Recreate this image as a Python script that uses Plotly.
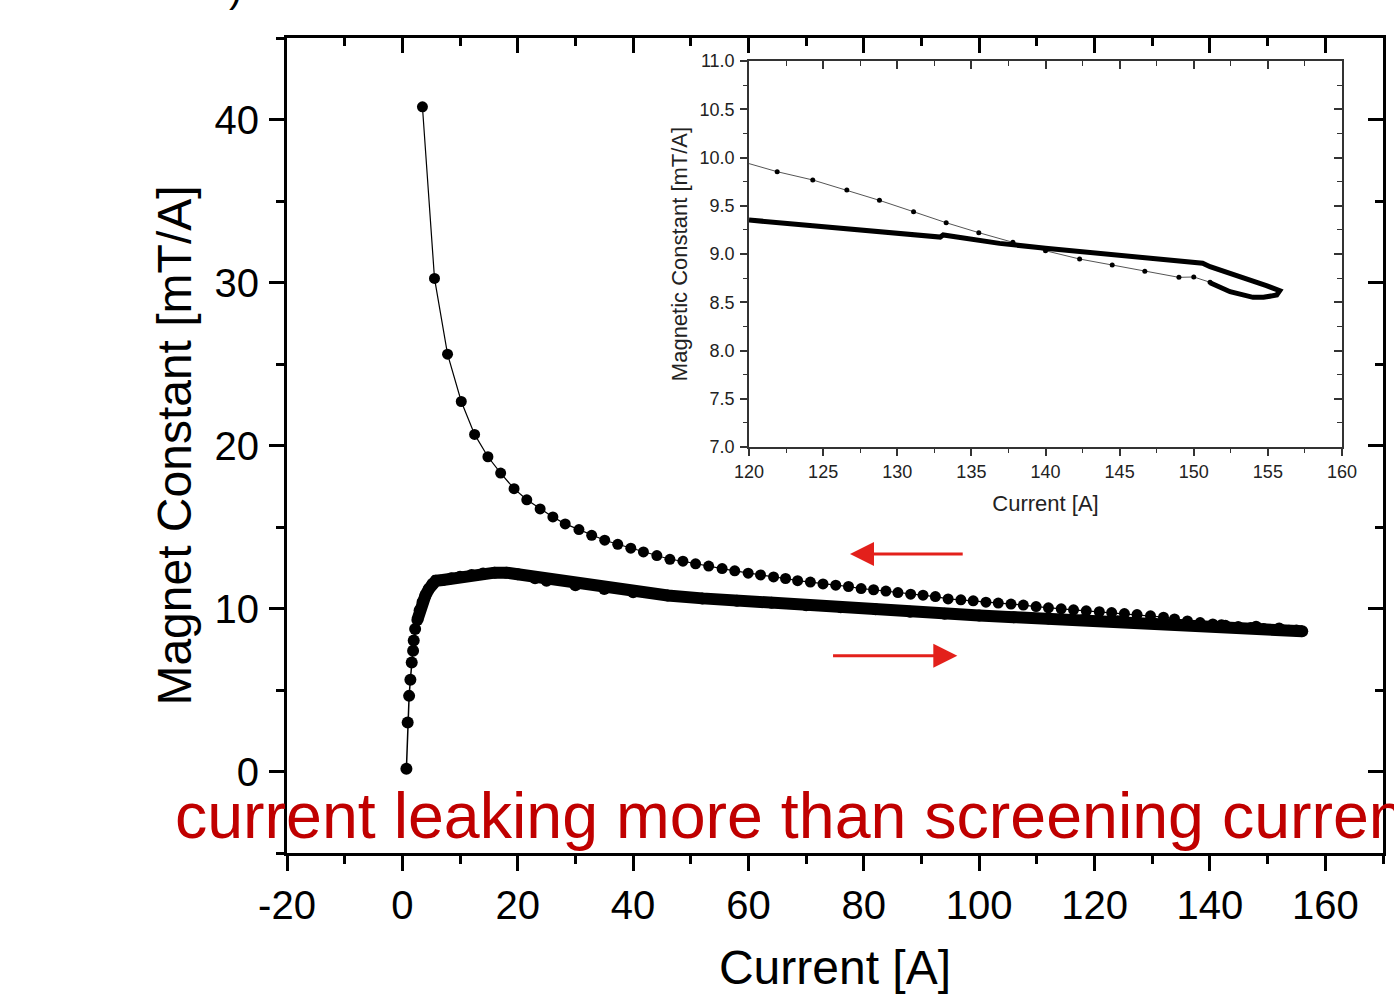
import plotly.graph_objects as go

# ---------------- data ----------------
# main plot, ramp-down branch (sparse dots)
down_I = [3.48, 5.57, 7.83, 10.21, 12.52, 14.83, 17.04, 19.36, 21.57, 23.88, 26.09, 28.23,
          30.61, 32.82, 35.08, 37.34, 39.60, 41.79, 44.12, 46.38, 48.64, 50.83, 53.10, 55.43,
          57.62, 59.95, 62.09, 64.35, 66.43, 68.52, 70.73, 72.92, 75.13, 77.34, 79.53, 81.69,
          83.83, 85.91, 88.12, 90.26, 92.40, 94.61, 96.82, 98.96, 101.17, 103.30, 105.51,
          107.65, 109.86, 112.00, 114.21, 116.35, 118.56, 120.82, 122.96, 125.17, 127.36,
          129.69, 131.95, 133.86, 136.1, 138.3, 140.5, 142.7, 144.9, 147.1, 149.3, 151.5,
          153.7, 155.9]
down_M = [40.78, 30.25, 25.60, 22.70, 20.68, 19.31, 18.31, 17.35, 16.67, 16.11, 15.62, 15.19,
          14.84, 14.49, 14.19, 13.94, 13.70, 13.47, 13.25, 13.02, 12.90, 12.74, 12.60, 12.45,
          12.31, 12.17, 12.06, 11.94, 11.84, 11.71, 11.62, 11.51, 11.43, 11.35, 11.22, 11.15,
          11.07, 10.98, 10.88, 10.82, 10.73, 10.59, 10.53, 10.47, 10.39, 10.33, 10.27,
          10.21, 10.12, 10.04, 9.98, 9.92, 9.86, 9.80, 9.75, 9.69, 9.63,
          9.55, 9.47, 9.36, 9.24, 9.14, 9.05, 8.97, 8.90, 8.84, 8.78, 8.73,
          8.66, 8.60]

# main plot, ramp-up branch (dense band)
up_I = [0.70, 0.92, 1.17, 1.39, 1.62, 1.86, 1.97, 2.21, 2.6, 3.0, 3.5, 4.0, 4.6, 5.2, 5.8,
        7.0, 8.5, 10, 12, 14, 16, 18, 20, 23, 25, 30, 35, 40, 46, 52, 58, 64, 70, 76, 82,
        88, 94, 100, 106, 112, 118, 124, 130, 136, 142, 148, 152, 155, 156]
up_M = [0.17, 3.00, 4.64, 5.63, 6.69, 7.41, 8.04, 8.74, 9.3, 9.9, 10.4, 10.8, 11.2, 11.5, 11.7,
        11.75, 11.85, 11.95, 12.05, 12.15, 12.2, 12.2, 12.1, 11.85, 11.7, 11.42, 11.19, 11.0,
        10.8, 10.62, 10.47, 10.35, 10.2, 10.07, 9.95, 9.8, 9.68, 9.57, 9.47, 9.38, 9.3, 9.22,
        9.14, 9.06, 8.98, 8.88, 8.78, 8.65, 8.6]
BAND_START = 8

# inset, ramp-down (thin line with small dots)
ins_down_I = [119.7, 121.9, 124.3, 126.6, 128.8, 131.1, 133.3, 135.5, 137.8, 140.0, 142.3,
              144.5, 146.7, 149.0, 150.0, 151.1]
ins_down_M = [9.95, 9.853, 9.767, 9.663, 9.556, 9.438, 9.324, 9.221, 9.121, 9.034, 8.948,
              8.886, 8.821, 8.758, 8.762, 8.707]

# inset, ramp-up (thick line with loop at the end)
ins_up_I = [120.0, 123.0, 126.0, 129.0, 132.9, 133.1, 136.9, 140.0, 143.0, 147.0, 150.6,
            151.1, 153.3, 154.9, 155.8, 155.6, 154.7, 154.0, 152.45, 151.1]
ins_up_M = [9.352, 9.31, 9.27, 9.22, 9.175, 9.197, 9.11, 9.06, 9.018, 8.965, 8.904,
            8.868, 8.759, 8.672, 8.620, 8.575, 8.551, 8.551, 8.609, 8.703]

# tick labels of the main x axis (hyphen minus as in the original)
main_x_ticks = [-20, 0, 20, 40, 60, 80, 100, 120, 140, 160]
main_x_labels = ["-20", "0", "20", "40", "60", "80", "100", "120", "140", "160"]

# ---------------- figure ----------------
W, H = 1394, 994
FONT = "Liberation Sans, Arial, sans-serif"


def fx(p):
    return p / W


def fy(p):
    return 1 - p / H


fig = go.Figure()

# main traces
fig.add_trace(go.Scatter(x=down_I, y=down_M, mode="lines+markers",
                         line=dict(color="black", width=1.2),
                         marker=dict(color="black", size=11),
                         showlegend=False, hoverinfo="skip"))
fig.add_trace(go.Scatter(x=up_I[BAND_START:], y=up_M[BAND_START:], mode="lines",
                         line=dict(color="black", width=12),
                         showlegend=False, hoverinfo="skip"))
fig.add_trace(go.Scatter(x=up_I, y=up_M, mode="lines+markers",
                         line=dict(color="black", width=1.5),
                         marker=dict(color="black", size=12),
                         showlegend=False, hoverinfo="skip"))
# dummy for mirrored inside ticks on main
fig.add_trace(go.Scatter(x=[], y=[], xaxis="x3", yaxis="y3", showlegend=False,
                         hoverinfo="skip"))

# inset traces
fig.add_trace(go.Scatter(x=ins_down_I, y=ins_down_M, xaxis="x2", yaxis="y2",
                         mode="lines+markers",
                         line=dict(color="#555555", width=1),
                         marker=dict(color="black", size=5),
                         showlegend=False, hoverinfo="skip"))
fig.add_trace(go.Scatter(x=ins_up_I, y=ins_up_M, xaxis="x2", yaxis="y2", mode="lines",
                         line=dict(color="black", width=5),
                         showlegend=False, hoverinfo="skip"))
fig.add_trace(go.Scatter(x=[], y=[], xaxis="x4", yaxis="y4", showlegend=False,
                         hoverinfo="skip"))

main_tick_font = dict(family=FONT, size=40, color="black")
ins_tick_font = dict(family=FONT, size=18, color="#222222")

XR = [-20, 170]
YR = [-5, 45]
IXR = [120, 160]
IYR = [7, 11]

fig.update_layout(
    width=W, height=H,
    margin=dict(l=0, r=0, t=0, b=0, pad=0, autoexpand=False),
    paper_bgcolor="white", plot_bgcolor="white",
    font=dict(family=FONT, color="black"),
    xaxis=dict(domain=[fx(287), fx(1383)], range=XR, anchor="y", automargin=False,
               showline=True, linecolor="black", linewidth=3, mirror=True,
               showgrid=False, zeroline=False,
               ticks="outside", ticklen=15, tickwidth=3, tickcolor="black",
               tickmode="array", tickvals=main_x_ticks, ticktext=main_x_labels,
               tickfont=main_tick_font, ticklabelstandoff=0,
               minor=dict(ticks="outside", ticklen=8, tickwidth=3, tickcolor="black",
                          dtick=10, tick0=0, showgrid=False),
               title=dict(text="Current [A]", font=dict(family=FONT, size=48),
                          standoff=36)),
    yaxis=dict(domain=[fy(853), fy(38)], range=YR, anchor="x", automargin=False,
               showline=True, linecolor="black", linewidth=3, mirror=True,
               showgrid=False, zeroline=False,
               ticks="outside", ticklen=15, tickwidth=3, tickcolor="black",
               tick0=0, dtick=10, tickfont=main_tick_font, ticklabelstandoff=2,
               minor=dict(ticks="outside", ticklen=8, tickwidth=3, tickcolor="black",
                          dtick=5, tick0=0, showgrid=False),
               title=dict(text="Magnet Constant [mT/A]", font=dict(family=FONT, size=48),
                          standoff=8)),
    xaxis3=dict(overlaying="x", side="top", anchor="y3", range=XR, automargin=False,
                showline=False, showgrid=False, zeroline=False, showticklabels=False,
                ticks="inside", ticklen=15, tickwidth=3, tickcolor="black",
                tick0=0, dtick=20,
                minor=dict(ticks="inside", ticklen=8, tickwidth=3, tickcolor="black",
                           dtick=10, tick0=0, showgrid=False)),
    yaxis3=dict(overlaying="y", side="right", anchor="x3", range=YR, automargin=False,
                showline=False, showgrid=False, zeroline=False, showticklabels=False,
                ticks="inside", ticklen=15, tickwidth=3, tickcolor="black",
                tick0=0, dtick=10,
                minor=dict(ticks="inside", ticklen=8, tickwidth=3, tickcolor="black",
                           dtick=5, tick0=0, showgrid=False)),
    xaxis2=dict(domain=[fx(749), fx(1342)], range=IXR, anchor="y2", automargin=False,
                showline=True, linecolor="#333333", linewidth=1.5, mirror=True,
                showgrid=False, zeroline=False,
                ticks="outside", ticklen=7, tickwidth=1.5, tickcolor="#333333",
                tick0=120, dtick=5, tickfont=ins_tick_font, ticklabelstandoff=1,
                minor=dict(ticks="outside", ticklen=4, tickwidth=1, tickcolor="#333333",
                           dtick=2.5, tick0=120, showgrid=False),
                title=dict(text="Current [A]", font=dict(family=FONT, size=22,
                                                         color="#222222"),
                           standoff=14)),
    yaxis2=dict(domain=[fy(447), fy(61)], range=IYR, anchor="x2", automargin=False,
                showline=True, linecolor="#333333", linewidth=1.5, mirror=True,
                showgrid=False, zeroline=False,
                ticks="outside", ticklen=7, tickwidth=1.5, tickcolor="#333333",
                tick0=7, dtick=0.5, tickformat=".1f", tickfont=ins_tick_font,
                ticklabelstandoff=2,
                minor=dict(ticks="outside", ticklen=4, tickwidth=1, tickcolor="#333333",
                           dtick=0.25, tick0=7, showgrid=False),
                title=dict(text="Magnetic Constant [mT/A]",
                           font=dict(family=FONT, size=22, color="#222222"),
                           standoff=6)),
    xaxis4=dict(overlaying="x2", side="top", anchor="y4", range=IXR, automargin=False,
                showline=False, showgrid=False, zeroline=False, showticklabels=False,
                ticks="inside", ticklen=8, tickwidth=1.5, tickcolor="#333333",
                tick0=120, dtick=5,
                minor=dict(ticks="inside", ticklen=5, tickwidth=1, tickcolor="#333333",
                           dtick=2.5, tick0=120, showgrid=False)),
    yaxis4=dict(overlaying="y2", side="right", anchor="x4", range=IYR, automargin=False,
                showline=False, showgrid=False, zeroline=False, showticklabels=False,
                ticks="inside", ticklen=8, tickwidth=1.5, tickcolor="#333333",
                tick0=7, dtick=0.5,
                minor=dict(ticks="inside", ticklen=5, tickwidth=1, tickcolor="#333333",
                           dtick=0.25, tick0=7, showgrid=False)),
)

ARROW_RED = "#E3201B"
fig.add_annotation(x=77.6, y=13.35, ax=97.4, ay=13.35, xref="x", yref="y",
                   axref="x", ayref="y", text="", showarrow=True,
                   arrowhead=2, arrowsize=1.6, arrowwidth=3, arrowcolor=ARROW_RED)
fig.add_annotation(x=96.2, y=7.1, ax=74.4, ay=7.1, xref="x", yref="y",
                   axref="x", ayref="y", text="", showarrow=True,
                   arrowhead=2, arrowsize=1.6, arrowwidth=3, arrowcolor=ARROW_RED)

fig.add_annotation(x=fx(173), y=fy(816), xref="paper", yref="paper",
                   xanchor="left", yanchor="middle", showarrow=False,
                   text="current leaking more than screening current",
                   font=dict(family=FONT, size=64.5, color="#C00000"))

fig.add_annotation(x=fx(235), y=fy(12), xref="paper", yref="paper",
                   xanchor="center", yanchor="bottom", showarrow=False,
                   text=")", font=dict(family=FONT, size=40, color="black"))

fig.write_html("out.html")
